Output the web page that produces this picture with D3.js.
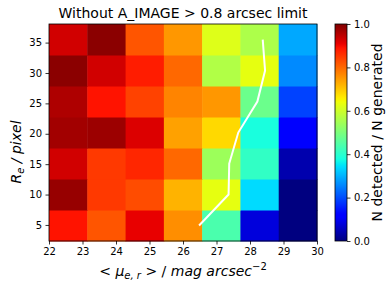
<!DOCTYPE html>
<html>
<head>
<meta charset="utf-8">
<script src="https://cdn.jsdelivr.net/npm/d3@7"></script>
<style>
  body { margin: 0; background: #fff; }
  svg { font-family: "DejaVu Sans", sans-serif; }
</style>
</head>
<body>
<svg width="392" height="291"></svg>
<script>
// bin edges
const muEdges = [22.0, 23.143, 24.286, 25.429, 26.571, 27.714, 28.857, 30.0];
const reEdges = [2.36, 7.46, 12.56, 17.66, 22.76, 27.86, 32.96, 38.06];

// detection fraction, one row per R_e bin (bottom row first)
const fracRows = [
  [0.89, 0.82, 0.91, 0.76, 0.44, 0.08, 0.00],
  [0.98, 0.85, 0.83, 0.72, 0.63, 0.34, 0.00],
  [0.93, 0.85, 0.87, 0.80, 0.54, 0.41, 0.04],
  [0.97, 0.975, 0.92, 0.74, 0.68, 0.38, 0.12],
  [0.96, 0.89, 0.84, 0.77, 0.75, 0.48, 0.19],
  [0.99, 0.93, 0.88, 0.80, 0.565, 0.63, 0.26],
  [0.93, 0.99, 0.82, 0.75, 0.62, 0.56, 0.29]
];

// limit line
const limitMu = [26.48, 27.36, 27.38, 27.65, 28.22, 28.45, 28.38];
const limitRe = [4.9, 10.0, 15.1, 20.2, 25.3, 30.4, 35.5];

const xTicks = [22, 23, 24, 25, 26, 27, 28, 29, 30];
const yTicks = [5, 10, 15, 20, 25, 30, 35];
const cTicks = [0, 0.2, 0.4, 0.6, 0.8, 1.0];

// matplotlib jet
function jet(v) {
  const seg = (pts) => {
    for (let i = 1; i < pts.length; i++) {
      if (v <= pts[i][0]) {
        const [x0, y0] = pts[i - 1], [x1, y1] = pts[i];
        return y0 + (y1 - y0) * (v - x0) / (x1 - x0);
      }
    }
    return pts[pts.length - 1][1];
  };
  const r = seg([[0, 0], [0.35, 0], [0.66, 1], [0.89, 1], [1, 0.5]]);
  const g = seg([[0, 0], [0.125, 0], [0.375, 1], [0.64, 1], [0.91, 0], [1, 0]]);
  const b = seg([[0, 0.5], [0.11, 1], [0.34, 1], [0.65, 0], [1, 0]]);
  return d3.rgb(r * 255, g * 255, b * 255).toString();
}

const svg = d3.select("svg");
const mLeft = 49, mRight = 317, mTop = 24, mBottom = 241;

const x = d3.scaleLinear().domain([22, 30]).range([mLeft, mRight]);
const y = d3.scaleLinear().domain([reEdges[0], reEdges[7]]).range([mBottom, mTop]);

// cells
const cells = [];
fracRows.forEach((row, j) => row.forEach((v, i) => cells.push({i, j, v})));
svg.append("g").selectAll("rect")
  .data(cells)
  .join("rect")
  .attr("x", d => x(muEdges[d.i]))
  .attr("y", d => y(reEdges[d.j + 1]))
  .attr("width", d => x(muEdges[d.i + 1]) - x(muEdges[d.i]) + 0.5)
  .attr("height", d => y(reEdges[d.j]) - y(reEdges[d.j + 1]) + 0.5)
  .attr("fill", d => jet(d.v));

// limit line
svg.append("path")
  .datum(limitMu.map((m, k) => [m, limitRe[k]]))
  .attr("d", d3.line().x(d => x(d[0])).y(d => y(d[1])))
  .attr("fill", "none")
  .attr("stroke", "white")
  .attr("stroke-width", 2);

svg.append("rect")
  .attr("x", mLeft).attr("y", mTop)
  .attr("width", mRight - mLeft).attr("height", mBottom - mTop)
  .attr("fill", "none").attr("stroke", "#000").attr("stroke-width", 0.8);

// axes
const xAxis = svg.append("g").attr("transform", `translate(0,${mBottom})`)
  .call(d3.axisBottom(x).tickValues(xTicks).tickSize(3.5).tickPadding(3.5).tickFormat(d3.format("d")));
const yAxis = svg.append("g").attr("transform", `translate(${mLeft},0)`)
  .call(d3.axisLeft(y).tickValues(yTicks).tickSize(3.5).tickPadding(3.5).tickFormat(d3.format("d")));
[xAxis, yAxis].forEach(a => {
  a.select(".domain").remove();
  a.selectAll("text").style("font-size", "10px").style("font-family", "DejaVu Sans").attr("fill", "#000");
  a.selectAll("line").attr("stroke", "#000").attr("stroke-width", 0.8);
});

// title
svg.append("text")
  .attr("x", (mLeft + mRight) / 2).attr("y", 18)
  .attr("text-anchor", "middle")
  .style("font-size", "14px")
  .text("Without A_IMAGE > 0.8 arcsec limit");

// x label
const xl = svg.append("text")
  .attr("x", (mLeft + mRight) / 2).attr("y", 276)
  .attr("text-anchor", "middle")
  .style("font-size", "14px");
xl.append("tspan").text("< ");
xl.append("tspan").style("font-style", "italic").text("μ");
xl.append("tspan").style("font-style", "italic").style("font-size", "10px").attr("dy", 3).text("e, r");
xl.append("tspan").attr("dy", -3).text(" >  / ");
xl.append("tspan").style("font-style", "italic").text("mag arcsec");
xl.append("tspan").style("font-size", "10px").attr("dy", -6).text("−2");

// y label
const yl = svg.append("text")
  .attr("transform", `translate(21,152) rotate(-90)`)
  .attr("text-anchor", "middle")
  .style("font-size", "14px")
  .style("font-style", "italic");
yl.append("tspan").text("R");
yl.append("tspan").style("font-size", "10px").attr("dy", 3).text("e");
yl.append("tspan").attr("dy", -3).text(" / pixel");

// colorbar
const cbL = 335, cbR = 347;
const c = d3.scaleLinear().domain([0, 1]).range([mBottom, mTop]);
const grad = svg.append("defs").append("linearGradient")
  .attr("id", "jetgrad").attr("x1", 0).attr("y1", 1).attr("x2", 0).attr("y2", 0);
grad.selectAll("stop")
  .data(d3.range(0, 1.0001, 0.01))
  .join("stop")
  .attr("offset", d => d)
  .attr("stop-color", d => jet(d));
svg.append("rect")
  .attr("x", cbL).attr("y", mTop)
  .attr("width", cbR - cbL).attr("height", mBottom - mTop)
  .attr("fill", "url(#jetgrad)")
  .attr("stroke", "#000").attr("stroke-width", 0.8);
const cAxis = svg.append("g").attr("transform", `translate(${cbR},0)`)
  .call(d3.axisRight(c).tickValues(cTicks).tickSize(3.5).tickPadding(3.5).tickFormat(d3.format(".1f")));
cAxis.select(".domain").remove();
cAxis.selectAll("text").style("font-size", "10px").style("font-family", "DejaVu Sans").attr("fill", "#000");
cAxis.selectAll("line").attr("stroke", "#000").attr("stroke-width", 0.8);

svg.append("text")
  .attr("transform", `translate(382,${(mTop + mBottom) / 2}) rotate(-90)`)
  .attr("text-anchor", "middle")
  .style("font-size", "14px")
  .text("N detected / N generated");
</script>
</body>
</html>
